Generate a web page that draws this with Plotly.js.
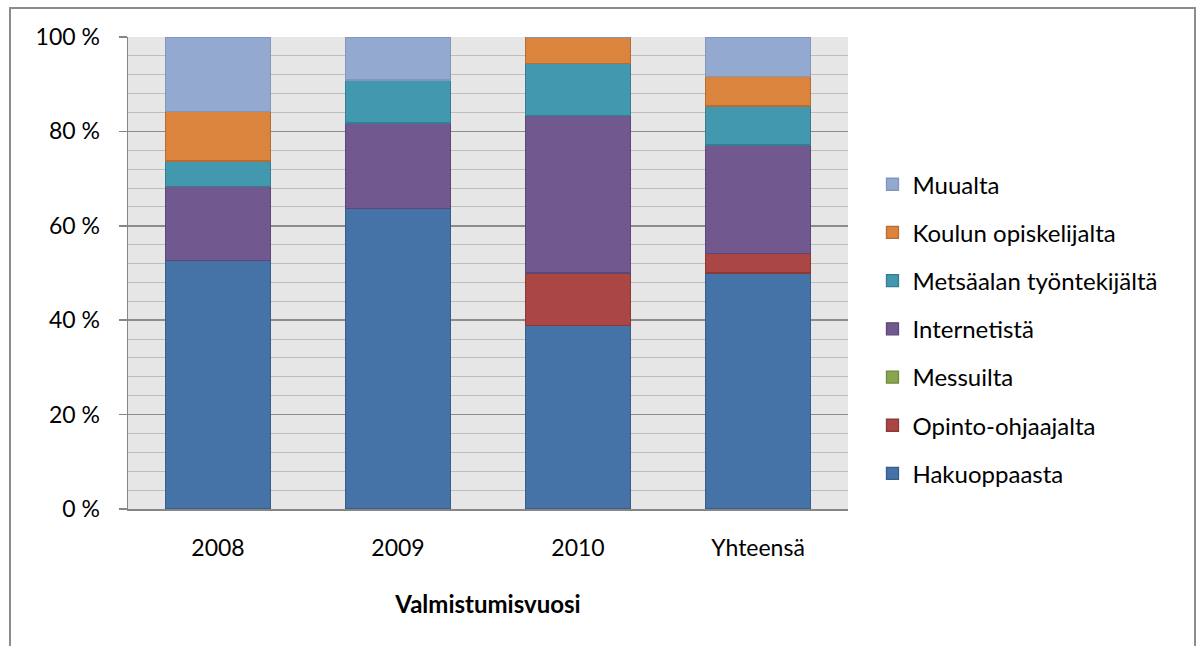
<!DOCTYPE html>
<html>
<head>
<meta charset="utf-8">
<script src="https://cdn.plot.ly/plotly-3.0.1.min.js"></script>
<style>
  html, body { margin: 0; padding: 0; background: #fff; }
  #wrap { position: relative; width: 1198px; height: 646px; overflow: hidden; }
  #chart { position: absolute; left: 0; top: 0; width: 1198px; height: 646px; }
  #frame {
    position: absolute; left: 9px; top: 7px; width: 1183px; height: 700px;
    border: 2px solid #8c8c8c; pointer-events: none;
  }
</style>
</head>
<body>
<div id="wrap">
  <div id="chart"></div>
  <div id="frame"></div>
</div>
<script>
// Valmistumisvuosi -> mistä tieto koulutuksesta saatiin (osuus %)
const vuodet = ['2008', '2009', '2010', 'Yhteensä'];

const hakuoppaasta = [52.6, 63.6, 38.9, 50.0];
const opintoOhjaajalta = [0, 0, 11.1, 4.2];
const messuilta = [0, 0, 0, 0];
const internetista = [15.8, 18.2, 33.3, 22.9];
const metsaalanTyontekijalta = [5.3, 9.1, 11.1, 8.3];
const koulunOpiskelijalta = [10.5, 0, 5.6, 6.3];
const muualta = [15.8, 9.1, 0, 8.3];

const sarjat = [
  { nimi: 'Hakuoppaasta', arvot: hakuoppaasta, vari: '#4572A7', reuna: '#385D8A' },
  { nimi: 'Opinto-ohjaajalta', arvot: opintoOhjaajalta, vari: '#AA4643', reuna: '#8C3836' },
  { nimi: 'Messuilta', arvot: messuilta, vari: '#89A54E', reuna: '#71893F' },
  { nimi: 'Internetistä', arvot: internetista, vari: '#71588F', reuna: '#5C4776' },
  { nimi: 'Metsäalan työntekijältä', arvot: metsaalanTyontekijalta, vari: '#4198AF', reuna: '#357D91' },
  { nimi: 'Koulun opiskelijalta', arvot: koulunOpiskelijalta, vari: '#DB843D', reuna: '#B66D31' },
  { nimi: 'Muualta', arvot: muualta, vari: '#93A9CF', reuna: '#8497B8' }
];

// legenda ylhäältä alas käänteisessä järjestyksessä (Muualta ylimpänä)
const traces = sarjat.map((s, i) => ({
  type: 'bar',
  name: s.nimi,
  x: vuodet,
  y: s.arvot,
  legendgroup: 'g' + i,
  legendrank: sarjat.length - i,
  marker: { color: s.vari, line: { color: s.reuna, width: 1.3 } },
  hoverinfo: 'x+y+name'
}));

const fontti = 'Lato, "Open Sans", sans-serif';

const layout = {
  width: 1198,
  height: 646,
  barmode: 'stack',
  bargap: 0.42,
  paper_bgcolor: 'rgba(0,0,0,0)',
  plot_bgcolor: '#E6E6E6',
  font: { family: fontti, size: 23, color: '#000' },
  margin: { l: 128, r: 350, t: 37, b: 137 },
  showlegend: true,
  legend: {
    traceorder: 'grouped',
    tracegroupgap: 14,
    x: 1.034,
    xanchor: 'left',
    y: 0.381,
    yanchor: 'middle',
    font: { family: fontti, size: 24, color: '#000' },
    bgcolor: 'rgba(0,0,0,0)'
  },
  xaxis: {
    type: 'category',
    showline: true,
    linecolor: '#868686',
    linewidth: 1.5,
    ticks: '',
    ticklabelstandoff: 18,
    showgrid: false,
    title: {
      text: '<b>Valmistumisvuosi</b>',
      font: { family: fontti, size: 24, color: '#000' },
      standoff: 36
    }
  },
  yaxis: {
    range: [0, 100],
    dtick: 20,
    ticksuffix: ' %',
    ticks: 'outside',
    ticklen: 8,
    tickcolor: '#868686',
    tickwidth: 1.5,
    ticklabelstandoff: 14,
    showline: true,
    linecolor: '#868686',
    linewidth: 1.5,
    showgrid: true,
    gridcolor: '#8C8C8C',
    gridwidth: 1.5,
    zeroline: false,
    minor: { dtick: 4, showgrid: true, gridcolor: '#BDBDBD', gridwidth: 1 }
  }
};

Plotly.newPlot('chart', traces, layout, { displayModeBar: false, staticPlot: true });
</script>
</body>
</html>
